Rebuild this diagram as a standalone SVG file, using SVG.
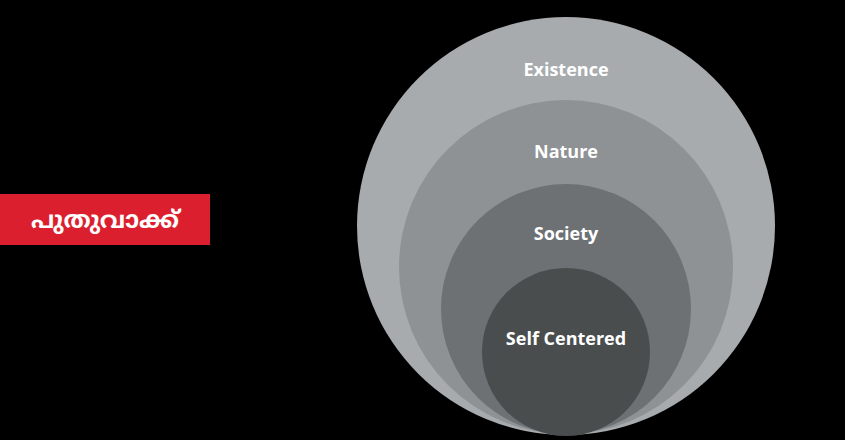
<svg xmlns="http://www.w3.org/2000/svg" width="845" height="440" viewBox="0 0 845 440">
<style>
.lbl{font-family:"Open Sans","Liberation Sans",sans-serif;font-weight:bold;font-size:18px;fill:#fff;text-anchor:middle}
</style>
<rect width="845" height="440" fill="#000"/>
<g id="tag"><rect x="0" y="194" width="210" height="51" fill="#dc1f2e"/>
<text x="105" y="228" font-family="'Noto Sans Malayalam','Noto Sans',sans-serif" font-weight="bold" font-size="24" fill="#fff" text-anchor="middle">പുതുവാക്ക്</text></g>
<g id="existence"><circle cx="566" cy="226" r="209" fill="#a7abae"/><text class="lbl" x="566" y="76">Existence</text></g>
<g id="nature"><circle cx="566" cy="267" r="167" fill="#8e9295"/><text class="lbl" x="566" y="158">Nature</text></g>
<g id="society"><circle cx="566" cy="309" r="125" fill="#6d7174"/><text class="lbl" x="566" y="240">Society</text></g>
<g id="self"><circle cx="566" cy="352" r="84" fill="#4a4d4e"/><text class="lbl" x="566" y="345">Self Centered</text></g>
<g id="connectors"/>
</svg>
